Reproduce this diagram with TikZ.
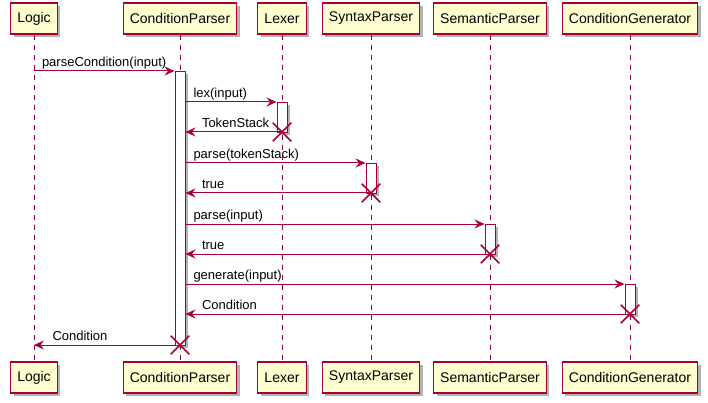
\documentclass[tikz,border=0pt]{standalone}
\usepackage{fontspec}
\setmainfont{Liberation Sans}
\usetikzlibrary{arrows.meta,shadows,shapes.misc}
\definecolor{umlR}{RGB}{168,0,54}
\definecolor{umlY}{RGB}{254,254,206}

\begin{document}
\begin{tikzpicture}[x=1pt,y=-1pt,>={Stealth[length=10pt,width=9pt,inset=3.5pt]},
  part/.style={draw=umlR,line width=1.1pt,fill=umlY,minimum height=31pt,inner xsep=6.6pt,
    font=\fontsize{14}{16}\selectfont,
    drop shadow={shadow xshift=3pt,shadow yshift=-3pt,opacity=.3,fill=black}},
  life/.style={umlR,line width=.9pt,dash pattern=on 5pt off 5pt},
  actbar/.style={draw=umlR,fill=white,line width=1pt,minimum width=10pt,inner sep=0pt,anchor=north,
    drop shadow={shadow xshift=2.5pt,shadow yshift=-2.5pt,opacity=.3,fill=black}},
  msg/.style={->,umlR,line width=1pt},
  lbl/.style={font=\fontsize{13}{15}\selectfont,text=black,inner sep=0pt,anchor=base west,yshift=4.5pt},
  gone/.style={cross out,draw=umlR,line width=1.5pt,minimum size=17pt,inner sep=0pt}]
\useasboundingbox (0,0) rectangle (708,403);

% participants, top and bottom, with lifelines
\foreach \n/\x/\t in {logic/34/Logic,cp/180/ConditionParser,lx/282/Lexer,
    sp/371/SyntaxParser,sem/490/SemanticParser,gen/630/ConditionGenerator}{
  \node[part] (\n) at (\x,18.5) {\t};
  \node[part] (\n B) at (\x,377.5) {\t};
  \draw[life] (\n) -- (\n B);
}

% activations
\node[actbar,minimum height=274pt] (cpA) at (180,71) {};
\node[actbar,minimum height=30pt] (lxA) at (282,102) {};
\node[actbar,minimum height=30pt] (spA) at (371,163) {};
\node[actbar,minimum height=30pt] (semA) at (490,224) {};
\node[actbar,minimum height=30pt] (genA) at (630,284) {};

% ends of the calls
\node[gone] (lxX) at (282,132) {};
\node[gone] (spX) at (371,193) {};
\node[gone] (semX) at (490,254) {};
\node[gone] (genX) at (630,314) {};
\node[gone] (cpX) at (180,345) {};

% messages
\draw[msg] (logic |- cpA.north) -- (cpA.north west)
  node[lbl,pos=0,xshift=7.5pt]{parseCondition(input)};
\draw[msg] (cpA.east |- lxA.north) -- (lxA.north west)
  node[lbl,pos=0,xshift=7.5pt]{lex(input)};
\draw[msg] (lxX.center) -- (cpA.east |- lxX)
  node[lbl,pos=1,xshift=16pt]{TokenStack};
\draw[msg] (cpA.east |- spA.north) -- (spA.north west)
  node[lbl,pos=0,xshift=7.5pt]{parse(tokenStack)};
\draw[msg] (spX.center) -- (cpA.east |- spX)
  node[lbl,pos=1,xshift=16pt]{true};
\draw[msg] (cpA.east |- semA.north) -- (semA.north west)
  node[lbl,pos=0,xshift=7.5pt]{parse(input)};
\draw[msg] (semX.center) -- (cpA.east |- semX)
  node[lbl,pos=1,xshift=16pt]{true};
\draw[msg] (cpA.east |- genA.north) -- (genA.north west)
  node[lbl,pos=0,xshift=7.5pt]{generate(input)};
\draw[msg] (genX.center) -- (cpA.east |- genX)
  node[lbl,pos=1,xshift=16pt]{Condition};
\draw[msg] (cpX.center) -- (logic |- cpX)
  node[lbl,pos=1,xshift=18pt]{Condition};
\end{tikzpicture}
\end{document}
